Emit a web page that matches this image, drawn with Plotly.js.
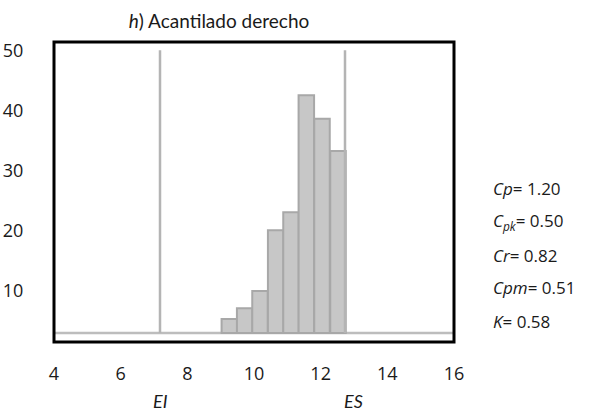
<!DOCTYPE html>
<html>
<head>
<meta charset="utf-8">
<script src="https://cdn.plot.ly/plotly-3.0.1.min.js"></script>
<style>html,body{margin:0;padding:0;background:#fff;}#chart{width:594px;height:412px;}</style>
</head>
<body>
<div id="chart"></div>
<script>
// ---- data ----
const binCenters = [9.26, 9.72, 10.18, 10.65, 11.11, 11.57, 12.04, 12.52];
const counts     = [5.2, 7.0, 9.9, 20.0, 23.0, 42.5, 38.6, 33.2];
const binWidth   = 0.465;
const baseline   = 2.88;      // level of the grey base line
const specTop    = 50;        // top of the specification lines
const EI = 7.18;              // lower specification
const ES = 12.73;             // upper specification
const xTickVals  = [4, 6, 8, 10, 12, 14, 16];
const xTickText  = ['4', '6', '8', '10', '12', '14', '16'];
const yTickVals  = [10, 20, 30, 40, 50];
const yTickText  = ['10', '20', '30', '40', '50'];
const statNames  = ['<i>Cp</i>', '<i>C<sub>pk</sub></i>', '<i>Cr</i>', '<i>Cpm</i>', '<i>K</i>'];
const statValues = ['1.20', '0.50', '0.82', '0.51', '0.58'];
const specNames  = ['EI', 'ES'];
const titleText  = '<i>h</i>) Acantilado derecho';

const grey = '#b4b4b4';
const numFont = 'Open Sans, sans-serif';
const textFont = 'Lato, sans-serif';

const traces = [
  {
    type: 'bar',
    x: binCenters,
    y: counts.map(v => v - baseline),
    base: baseline,
    width: binWidth,
    marker: {color: '#c7c7c7', line: {color: '#a8a8a8', width: 2}},
    hoverinfo: 'skip'
  },
  {
    type: 'scatter', mode: 'lines',
    x: [EI, EI], y: [baseline, specTop],
    line: {color: grey, width: 2.5},
    hoverinfo: 'skip'
  },
  {
    type: 'scatter', mode: 'lines',
    x: [ES, ES], y: [baseline, specTop],
    line: {color: grey, width: 2.5},
    hoverinfo: 'skip'
  }
];

const statY = [0.511, 0.403, 0.289, 0.183, 0.067];
const annotations = statNames.map((n, i) => ({
  xref: 'paper', yref: 'paper', x: 1.094, y: statY[i],
  xanchor: 'left', yanchor: 'middle', showarrow: false, borderpad: 0,
  text: n + '= ' + statValues[i],
  font: {family: numFont, size: 17, color: '#1a1a1a'}
}));
annotations.push({
  xref: 'x', yref: 'paper', x: EI, y: -0.195, xanchor: 'center', yanchor: 'middle',
  showarrow: false, borderpad: 0, text: '<i>' + specNames[0] + '</i>',
  font: {family: textFont, size: 18, color: '#1a1a1a'}
});
annotations.push({
  xref: 'x', yref: 'paper', x: ES, xshift: 8, y: -0.195, xanchor: 'center', yanchor: 'middle',
  showarrow: false, borderpad: 0, text: '<i>' + specNames[1] + '</i>',
  font: {family: textFont, size: 18, color: '#1a1a1a'}
});

const layout = {
  width: 594, height: 412,
  margin: {l: 54, r: 140, t: 42, b: 70, pad: 0},
  paper_bgcolor: '#fff', plot_bgcolor: '#fff',
  showlegend: false,
  hovermode: false,
  bargap: 0,
  title: {
    text: titleText,
    font: {family: textFont, size: 19, color: '#1a1a1a'},
    xref: 'paper', x: 0.4125, xanchor: 'center',
    yref: 'container', y: 1 - 21.7 / 412, yanchor: 'middle'
  },
  xaxis: {
    range: [4, 16], tickvals: xTickVals, ticktext: xTickText,
    showgrid: false, zeroline: false, showline: false,
    ticks: 'outside', ticklen: 15, tickcolor: 'rgba(0,0,0,0)',
    tickfont: {family: numFont, size: 18, color: '#1a1a1a'}
  },
  yaxis: {
    range: [1.38, 51.38], tickvals: yTickVals, ticktext: yTickText,
    showgrid: false, zeroline: false, showline: false,
    ticks: 'outside', ticklen: 26, tickcolor: 'rgba(0,0,0,0)',
    tickfont: {family: numFont, size: 18, color: '#1a1a1a'}
  },
  shapes: [
    {type: 'line', xref: 'paper', yref: 'y', x0: 0, x1: 1, y0: baseline, y1: baseline,
     line: {color: '#bdbdbd', width: 2.5}, layer: 'below'},
    {type: 'rect', xref: 'paper', yref: 'paper', x0: 0, x1: 1, y0: 0, y1: 1,
     line: {color: '#000', width: 3}, layer: 'above'}
  ],
  annotations: annotations
};

Plotly.newPlot('chart', traces, layout, {staticPlot: true, displayModeBar: false});
</script>
</body>
</html>
